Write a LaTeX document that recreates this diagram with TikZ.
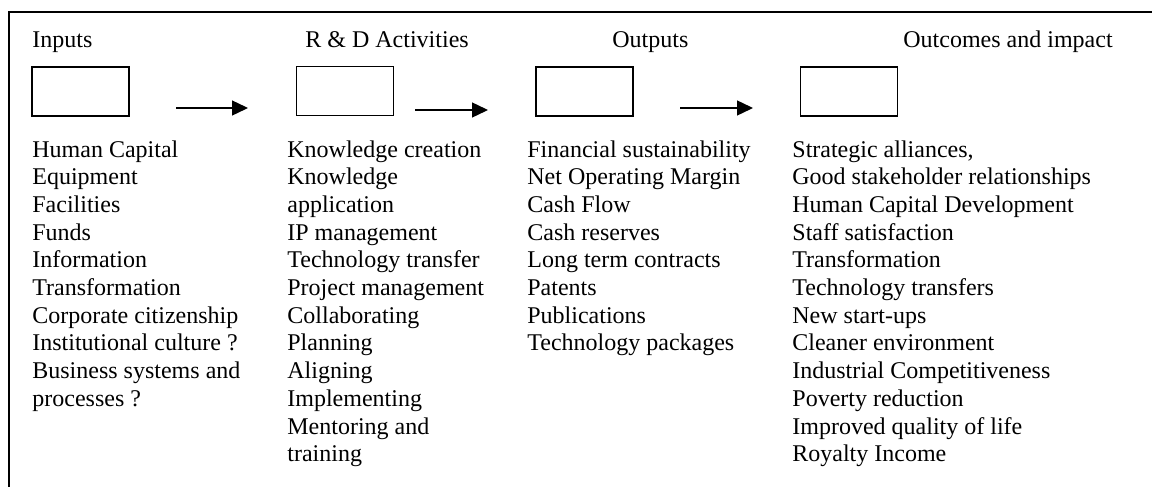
\documentclass[tikz,border=0pt]{standalone}
\usepackage{fontspec}
\setmainfont{Liberation Serif}
\usetikzlibrary{arrows.meta}

\begin{document}
\begin{tikzpicture}[x = 0.5pt, y = -0.5pt,
	box/.style = {draw, line width = 0.6pt, minimum width = 48.5pt, minimum height = 24.5pt, inner sep = 0pt},
	item/.style = {anchor = base west, inner sep = 0pt, font = \fontsize{12}{13.8}\selectfont},
	flow/.style = {-{Triangle[length = 8pt, width = 7.5pt]}, line width = 0.7pt}]
	\useasboundingbox (0,0) rectangle (1152,487);
	\draw[line width = 0.6pt] (1152,12) -- (9,12) -- (9,487);

	% headings
	\node[item] (inputs) at (32,47) {Inputs};
	\node[item] (rd) at (305,47) {R \& D Activities};
	\node[item] (outputs) at (612,47) {Outputs};
	\node[item] (outcomes) at (903,47) {Outcomes and impact};

	% empty boxes
	\node[box] (inbox) at (80.5,91.5) {};
	\node[box] (rdbox) at (345,91) {};
	\node[box] (outbox) at (584.5,91.5) {};
	\node[box] (impbox) at (849,91.5) {};

	% arrows between the boxes
	\coordinate (a1) at (176,108);
	\coordinate (b1) at (248,108);
	\coordinate (a2) at (415,110);
	\coordinate (b2) at (488,110);
	\coordinate (a3) at (680,108);
	\coordinate (b3) at (753,108);
	\foreach \k in {1,2,3} {
		\draw[flow] (a\k) -- (b\k);
	}

	% lists
	\foreach \t [count = \i] in {Human Capital, Equipment, Facilities, Funds, Information, Transformation,
			Corporate citizenship, Institutional culture ?, Business systems and, processes ?} {
		\node[item] (inp\i) at (32, {157 + 27.7*(\i-1)}) {\t};
	}
	\foreach \t [count = \i] in {Knowledge creation, Knowledge, application, IP management, Technology transfer,
			Project management, Collaborating, Planning, Aligning, Implementing, Mentoring and, training} {
		\node[item] (act\i) at (287, {157 + 27.7*(\i-1)}) {\t};
	}
	\foreach \t [count = \i] in {Financial sustainability, Net Operating Margin, Cash Flow, Cash reserves,
			Long term contracts, Patents, Publications, Technology packages} {
		\node[item] (out\i) at (527, {157 + 27.7*(\i-1)}) {\t};
	}
	\foreach \t [count = \i] in {{Strategic alliances,}, Good stakeholder relationships, Human Capital Development,
			Staff satisfaction, Transformation, Technology transfers, New start-ups, Cleaner environment,
			Industrial Competitiveness, Poverty reduction, Improved quality of life, Royalty Income} {
		\node[item] (imp\i) at (792, {157 + 27.7*(\i-1)}) {\t};
	}
\end{tikzpicture}
\end{document}
